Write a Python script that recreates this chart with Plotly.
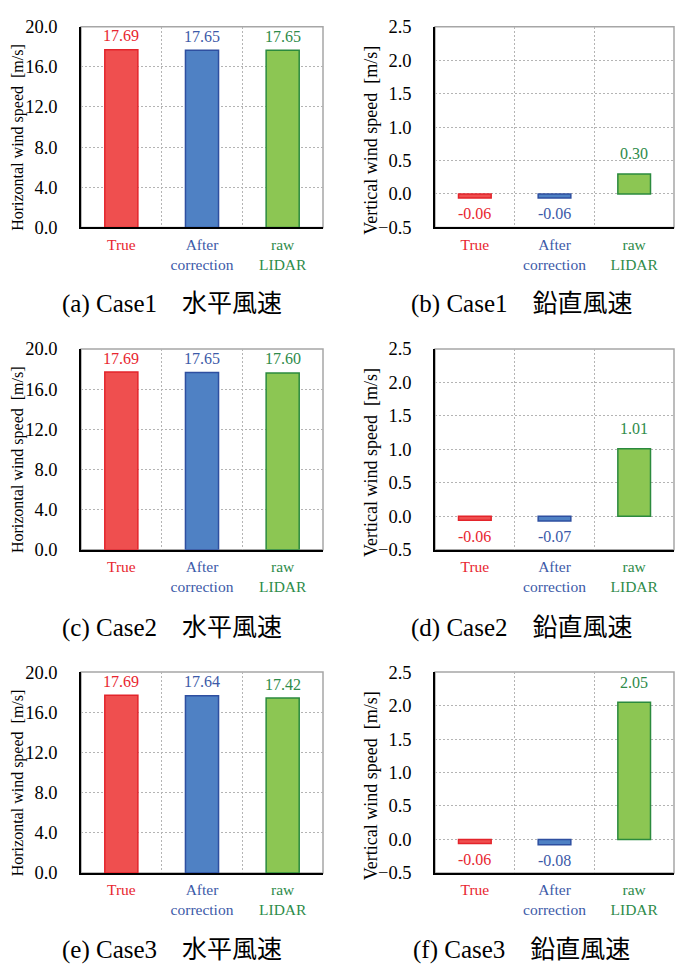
import plotly.graph_objects as go

# Categories and per-category colours
categories = ["True", "After correction", "raw LIDAR"]
cat_ticktext = ["True", "After<br>correction", "raw<br>LIDAR"]
fill_colors = ["#EF4F4F", "#4F81C4", "#8CC653"]
line_colors = ["#E3242B", "#2E4FA0", "#2B8A3E"]
text_colors = ["#E8262F", "#3C5AA8", "#2E8B4A"]

# Horizontal wind speed [m/s] per case
horiz_case1 = [17.69, 17.65, 17.65]
horiz_case2 = [17.69, 17.65, 17.60]
horiz_case3 = [17.69, 17.64, 17.42]

# Vertical wind speed [m/s] per case
vert_case1 = [-0.06, -0.06, 0.30]
vert_case2 = [-0.06, -0.07, 1.01]
vert_case3 = [-0.06, -0.08, 2.05]

captions = [
    "(a) Case1\u3000水平風速", "(b) Case1\u3000鉛直風速",
    "(c) Case2\u3000水平風速", "(d) Case2\u3000鉛直風速",
    "(e) Case3\u3000水平風速", "(f) Case3\u3000鉛直風速",
]

W, H = 683, 974
SERIF = "Liberation Serif, Times New Roman, serif"
CAP_FONT = "Liberation Serif, Noto Sans CJK JP, serif"
GRID = dict(showgrid=True, gridcolor="#b4b4b4", griddash="2px,2px", gridwidth=1)


def px(x):
    return x / W


def py(y):
    return 1 - y / H


# panel geometry in pixels
col_x = [(81, 323), (435, 674)]
row_y = [(17, 222), (346, 551), (676, 881)]

panels = [
    (0, 0, horiz_case1, "h"), (0, 1, vert_case1, "v"),
    (1, 0, horiz_case2, "h"), (1, 1, vert_case2, "v"),
    (2, 0, horiz_case3, "h"), (2, 1, vert_case3, "v"),
]

fig = go.Figure()
layout = dict(
    width=W, height=H, margin=dict(l=0, r=0, t=0, b=0),
    paper_bgcolor="white", plot_bgcolor="white", showlegend=False,
    font=dict(family=SERIF, color="black"),
)
annotations = []
shapes = []
ticktext_colored = [
    f"<span style='color:{c}'>{t}</span>" for t, c in zip(cat_ticktext, text_colors)
]

for i, (r, c, values, kind) in enumerate(panels):
    n = i + 1
    xa = "x" if n == 1 else f"x{n}"
    ya = "y" if n == 1 else f"y{n}"
    x0, x1 = col_x[c]
    ytop, ybot = row_y[r]
    xdom = [px(x0), px(x1)]
    ydom = [py(ybot), py(ytop)]

    fig.add_trace(go.Bar(
        x=categories, y=values, xaxis=xa, yaxis=ya, width=0.41,
        marker=dict(color=fill_colors, line=dict(color=line_colors, width=1.5)),
        hoverinfo="skip",
    ))

    if kind == "h":
        yrange, dtick = [0, 20], 4
        title = "Horizontal wind speed  [m/s]"
        tfs = 16
        title_x, title_y = 18, (ytop + ybot) / 2 + 11
        pos_shift = 14
    else:
        yrange, dtick = [-0.5, 2.5], 0.5
        title = "Vertical wind speed  [m/s]"
        tfs = 18
        title_x, title_y = 371, (ytop + ybot) / 2 + 14
        pos_shift = 20

    layout[f"xaxis{'' if n == 1 else n}"] = dict(
        domain=xdom, anchor=ya, type="category",
        tickmode="array", tickvals=categories, ticktext=ticktext_colored,
        tickson="boundaries", ticks="", ticklabelstandoff=2,
        tickfont=dict(family=SERIF, size=15.5),
        showline=True, linecolor="black", linewidth=1.5,
        fixedrange=True, **GRID,
    )
    layout[f"yaxis{'' if n == 1 else n}"] = dict(
        domain=ydom, anchor=xa, range=yrange, dtick=dtick, tick0=0,
        tickformat=".1f", ticks="", ticklabelstandoff=18,
        tickfont=dict(family=SERIF, size=18.5),
        zeroline=False,
        showline=True, linecolor="black", linewidth=1.5,
        fixedrange=True, **GRID,
    )

    # light frame on the top and right edges
    shapes.append(dict(
        type="rect", xref=f"{xa} domain", yref=f"{ya} domain",
        x0=0, x1=1, y0=0, y1=1, line=dict(color="#a6a6a6", width=1.5),
        layer="below",
    ))

    # value labels: above positive bars, below negative ones
    for cat, v, tc in zip(categories, values, text_colors):
        annotations.append(dict(
            x=cat, y=v, xref=xa, yref=ya, text=f"{v:.2f}", showarrow=False,
            yanchor="middle", yshift=pos_shift if v >= 0 else -16,
            font=dict(family=SERIF, size=16, color=tc),
        ))

    # axis title
    annotations.append(dict(
        x=px(title_x), y=py(title_y), xref="paper", yref="paper",
        text=title, textangle=-90, showarrow=False,
        xanchor="center", yanchor="middle",
        font=dict(family=SERIF, size=tfs, color="black"),
    ))

    # panel caption
    cap_x = 171.5 if c == 0 else 521.5
    cap_y = [300, 631, 960][r]
    annotations.append(dict(
        x=px(cap_x), y=py(cap_y), xref="paper", yref="paper",
        text=captions[i], showarrow=False, xanchor="center", yanchor="middle",
        font=dict(family=CAP_FONT, size=25, color="black"),
    ))

layout["annotations"] = annotations
layout["shapes"] = shapes
fig.update_layout(**layout)
fig.write_html(
    "out.html",
    post_script=(
        "document.documentElement.style.overflow='hidden';"
        "document.body.style.margin='0';"
    ),
)
